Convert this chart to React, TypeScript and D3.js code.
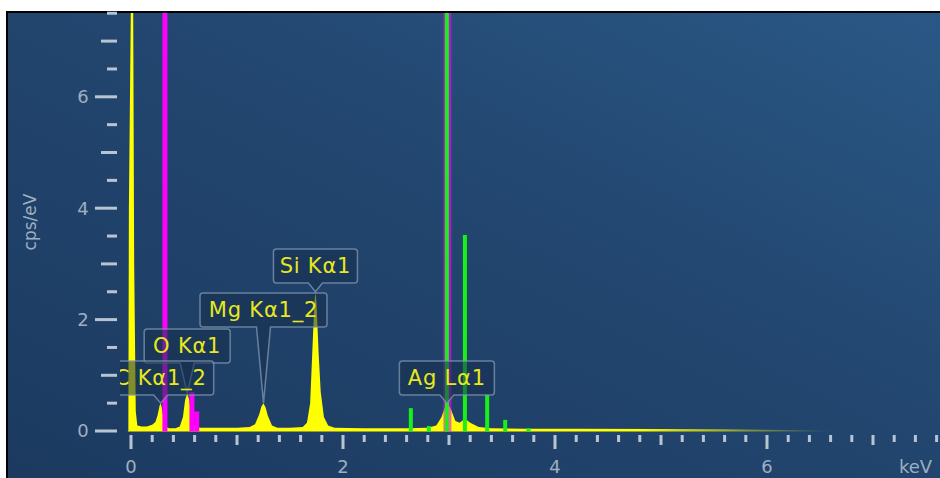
import React from "react";
import * as d3 from "d3";

// EDS spectrum (keV, cps/eV)
const spectrumKeV = [
  -0.03, -0.025, -0.02, 0.0, 0.02, 0.03, 0.045, 0.06, 0.1, 0.15, 0.2, 0.23, 0.25,
  0.27, 0.28, 0.29, 0.31, 0.33, 0.36, 0.42, 0.46, 0.49, 0.51, 0.53, 0.55, 0.57,
  0.6, 0.65, 0.8, 1.0, 1.12, 1.17, 1.21, 1.23, 1.25, 1.27, 1.29, 1.33, 1.38, 1.5,
  1.62, 1.66, 1.69, 1.71, 1.73, 1.74, 1.75, 1.77, 1.79, 1.82, 1.86, 1.92, 2.2,
  2.6, 2.8, 2.88, 2.93, 2.96, 2.99, 3.02, 3.06, 3.1, 3.15, 3.2, 3.28, 3.4, 3.7,
  4.2, 5.0, 5.6, 6.2, 6.6, 7.0,
];
const spectrumCps = [
  0, 0, 4.0, 7.9, 7.9, 3.0, 0.35, 0.1, 0.08, 0.08, 0.11, 0.16, 0.28,
  0.46, 0.5, 0.42, 0.18, 0.07, 0.05, 0.05, 0.08, 0.25, 0.55, 0.68, 0.55, 0.25,
  0.08, 0.06, 0.06, 0.06, 0.07, 0.12, 0.3, 0.44, 0.5, 0.42, 0.28, 0.1, 0.06, 0.06,
  0.07, 0.15, 0.5, 1.4, 2.3, 2.5, 2.3, 1.4, 0.7, 0.25, 0.1, 0.06, 0.05,
  0.05, 0.06, 0.1, 0.25, 0.42, 0.5, 0.38, 0.18, 0.15, 0.22, 0.15, 0.07, 0.05, 0.04,
  0.04, 0.035, 0.03, 0.02, 0.01, 0,
];

// Element marker lines
const agLineKeV = [2.64, 2.81, 2.98, 3.15, 3.36, 3.53, 3.75];
const agLineCps = [0.41, 0.09, 9, 3.52, 0.65, 0.2, 0.05];
const magentaKeV = [0.32, 0.575, 0.62, 2.985];
const magentaCps = [9, 0.7, 0.35, 9];

// Peak labels
const peakNames = ["Si Kα1", "Mg Kα1_2", "O Kα1", "C Kα1_2", "Ag Lα1"];
const peakKeV = [1.74, 1.25, 0.53, 0.28, 2.98];
const peakCps = [2.5, 0.5, 0.68, 0.5, 0.5];
// box layout (px): width, bottom y
const boxWidth = [84, 127, 86, 106, 95];
const boxBottom = [283, 327, 363, 395, 395];

const yTickLabels = [0, 2, 4, 6];
const xTickLabels = [0, 2, 4, 6];

const W = 940;
const H = 478;

export default function App() {
  const x = d3.scaleLinear().domain([0, 8]).range([131, 131 + 8 * 106]);
  const y = d3.scaleLinear().domain([0, 7.5]).range([431, 431 - 7.5 * 55.7]);

  const pts = spectrumKeV.map((k, i) => [k, spectrumCps[i]] as [number, number]);
  const area = d3
    .area<[number, number]>()
    .x((d) => x(d[0]))
    .y0(y(0) + 0.5)
    .y1((d) => y(d[1]));

  const yTicks = d3.range(0, 7.51, 0.5);
  const xTicks = d3.range(0, 7.61, 0.2);
  const tickCol = "#b7c4d2";
  const labCol = "#9cafc3";

  return (
    <svg
      width={W}
      height={H}
      style={{ position: "absolute", left: 0, top: 0, display: "block" }}
      fontFamily="DejaVu Sans, sans-serif"
    >
      <defs>
        <linearGradient id="bg" x1="0" y1="1" x2="1" y2="0">
          <stop offset="0" stopColor="#1c3a60" />
          <stop offset="0.55" stopColor="#22466f" />
          <stop offset="1" stopColor="#2a5886" />
        </linearGradient>
        <linearGradient id="fade" gradientUnits="userSpaceOnUse" x1={x(4.8)} y1="0" x2={x(6.6)} y2="0">
          <stop offset="0" stopColor="#ffff00" stopOpacity="1" />
          <stop offset="1" stopColor="#ffff00" stopOpacity="0" />
        </linearGradient>
        <clipPath id="plot">
          <rect x={120} y={13} width={W - 120} height={432 - 13} />
        </clipPath>
      </defs>

      <rect width={W} height={H} fill="#ffffff" />
      <rect x={6} y={11} width={W - 6} height={H - 11} fill="#000000" />
      <rect x={8} y={13} width={W - 8} height={H - 13} fill="url(#bg)" />

      <g clipPath="url(#plot)">
        <path d={area(pts) || ""} fill="url(#fade)" />
        {magentaKeV.map((k, i) => (
          <rect
            key={"m" + i}
            x={x(k) - (i === 3 ? 4 : 2.5)}
            width={i === 3 ? 8 : 5}
            y={y(magentaCps[i])}
            height={y(0) - y(magentaCps[i]) + 0.5}
            fill="#ff00ff"
            opacity={i === 3 ? 0.6 : 1}
          />
        ))}
        {agLineKeV.map((k, i) => (
          <rect
            key={"g" + i}
            x={x(k) - 2}
            width={4}
            y={y(agLineCps[i])}
            height={y(0) - y(agLineCps[i]) + 0.5}
            fill="#19f019"
          />
        ))}

        {peakNames.map((name, i) => {
          const tx = x(peakKeV[i]);
          const ty = y(peakCps[i]);
          const bw = boxWidth[i];
          const b = boxBottom[i];
          const t = b - 34;
          const x0 = tx - bw / 2;
          const x1 = tx + bw / 2;
          const r = 3;
          const d = `M${x0 + r},${t} H${x1 - r} Q${x1},${t} ${x1},${t + r} V${b - r} Q${x1},${b} ${x1 - r},${b} H${tx + 7} L${tx},${ty} L${tx - 7},${b} H${x0 + r} Q${x0},${b} ${x0},${b - r} V${t + r} Q${x0},${t} ${x0 + r},${t} Z`;
          return (
            <g key={name}>
              <path d={d} fill="#15304f" fillOpacity={0.55} stroke="#8097b0" strokeOpacity={0.75} strokeWidth={1.5} />
              <text
                x={tx}
                y={b - 10}
                textAnchor="middle"
                fontSize={21}
                letterSpacing={0.8}
                fill="#e8e81c"
              >
                {name}
              </text>
            </g>
          );
        })}
      </g>

      {/* y axis */}
      {yTicks.map((v) => {
        const labeled = yTickLabels.includes(v);
        const integer = Number.isInteger(v);
        const len = labeled ? 22 : integer ? 16 : 10;
        return (
          <rect key={"yt" + v} x={117 - len} width={len} y={y(v) - 1.5} height={3} fill={tickCol} />
        );
      })}
      {yTickLabels.map((v) => (
        <text key={"yl" + v} x={83} y={y(v)} dy="0.35em" textAnchor="middle" fontSize={18} fill={labCol}>
          {v}
        </text>
      ))}
      <text
        transform={`translate(36,222) rotate(-90)`}
        textAnchor="middle"
        fontSize={17}
        fill={labCol}
      >
        cps/eV
      </text>

      {/* x axis */}
      {xTicks.map((v) => {
        const r = Math.round(v * 10) / 10;
        const labeled = xTickLabels.includes(r);
        const integer = Number.isInteger(r);
        const len = labeled ? 14 : integer ? 10 : 7;
        return <rect key={"xt" + r} x={x(r) - 1.5} width={3} y={435} height={len} fill={tickCol} />;
      })}
      {xTickLabels.map((v) => (
        <text key={"xl" + v} x={x(v)} y={473} textAnchor="middle" fontSize={18} fill={labCol}>
          {v}
        </text>
      ))}
      <text x={899} y={473} fontSize={18} fill={labCol}>
        keV
      </text>
    </svg>
  );
}
